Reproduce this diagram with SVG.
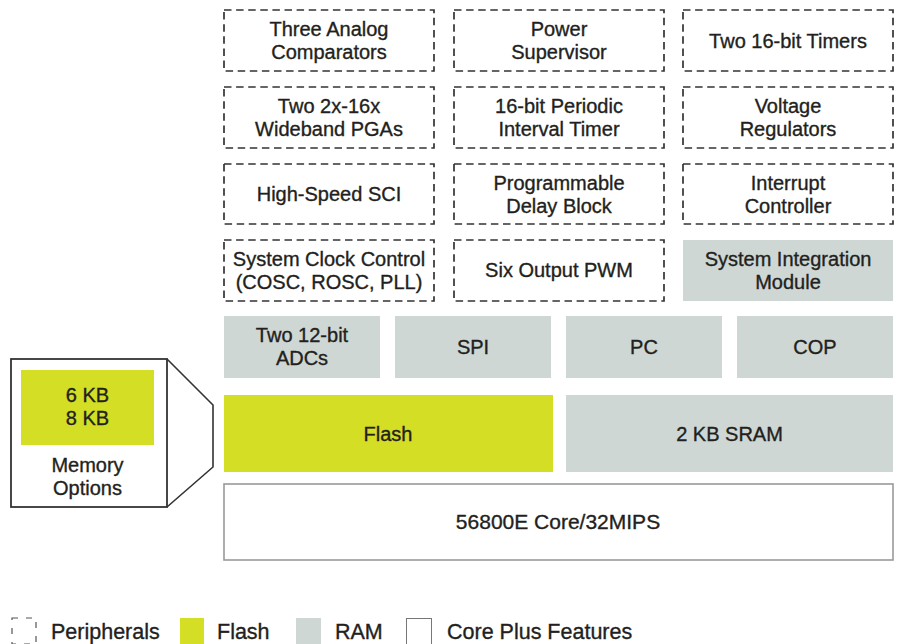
<svg xmlns="http://www.w3.org/2000/svg" width="898" height="644" viewBox="0 0 898 644">
<style>
text{font-family:"Liberation Sans",Arial,Helvetica,sans-serif;font-size:20px;fill:#231f20;stroke:#231f20;stroke-width:0.35;text-anchor:middle}
.per{fill:#fff;stroke:#333;stroke-width:1.7;stroke-dasharray:7.5 4.6}
.ram{fill:#ced7d3}
.fl{fill:#d3de24}
.core{fill:#fff;stroke:#9a9a9a;stroke-width:1.6}
.lg{text-anchor:start;font-size:21.5px}
</style>
<rect width="898" height="644" fill="#fff"/>
<g id="connectors">
<polyline points="167,359 213,405 213,467 167,507" fill="none" stroke="#333" stroke-width="1.6"/>
</g>
<g id="three-analog-comparators"><rect class="per" x="224" y="10" width="210" height="61"/><text x="329" y="36">Three Analog</text><text x="329" y="59">Comparators</text></g>
<g id="power-supervisor"><rect class="per" x="454" y="10" width="210" height="61"/><text x="559" y="36">Power</text><text x="559" y="59">Supervisor</text></g>
<g id="two-16bit-timers"><rect class="per" x="683" y="10" width="210" height="61"/><text x="788" y="48">Two 16-bit Timers</text></g>
<g id="two-pgas"><rect class="per" x="224" y="87" width="210" height="61"/><text x="329" y="113">Two 2x-16x</text><text x="329" y="136">Wideband PGAs</text></g>
<g id="periodic-timer"><rect class="per" x="454" y="87" width="210" height="61"/><text x="559" y="113">16-bit Periodic</text><text x="559" y="136">Interval Timer</text></g>
<g id="voltage-regulators"><rect class="per" x="683" y="87" width="210" height="61"/><text x="788" y="113">Voltage</text><text x="788" y="136">Regulators</text></g>
<g id="high-speed-sci"><rect class="per" x="224" y="164" width="210" height="60"/><text x="329" y="201">High-Speed SCI</text></g>
<g id="delay-block"><rect class="per" x="454" y="164" width="210" height="60"/><text x="559" y="190">Programmable</text><text x="559" y="213">Delay Block</text></g>
<g id="interrupt-controller"><rect class="per" x="683" y="164" width="210" height="60"/><text x="788" y="190">Interrupt</text><text x="788" y="213">Controller</text></g>
<g id="system-clock-control"><rect class="per" x="224" y="240" width="210" height="61"/><text x="329" y="266">System Clock Control</text><text x="329" y="289">(COSC, ROSC, PLL)</text></g>
<g id="six-output-pwm"><rect class="per" x="454" y="240" width="210" height="61"/><text x="559" y="277">Six Output PWM</text></g>
<g id="sim"><rect class="ram" x="683" y="240" width="210" height="61"/><text x="788" y="266">System Integration</text><text x="788" y="289">Module</text></g>
<g id="adcs"><rect class="ram" x="224" y="316" width="156" height="62"/><text x="302" y="342">Two 12-bit</text><text x="302" y="365">ADCs</text></g>
<g id="spi"><rect class="ram" x="395" y="316" width="156" height="62"/><text x="473" y="354">SPI</text></g>
<g id="pc"><rect class="ram" x="566" y="316" width="156" height="62"/><text x="644" y="354">PC</text></g>
<g id="cop"><rect class="ram" x="737" y="316" width="156" height="62"/><text x="815" y="354">COP</text></g>
<g id="flash"><rect class="fl" x="224" y="395" width="329" height="77"/><text x="388" y="441">Flash</text></g>
<g id="sram"><rect class="ram" x="566" y="395" width="327" height="77"/><text x="729.5" y="441">2 KB SRAM</text></g>
<g id="core"><rect class="core" x="224" y="484" width="669" height="76"/><text x="558" y="529" style="font-size:21px">56800E Core/32MIPS</text></g>
<g id="memory-options"><rect x="11" y="359" width="156" height="148" fill="#fff" stroke="#333" stroke-width="1.8"/><rect class="fl" x="21" y="370" width="133" height="75"/><text x="87.5" y="402">6 KB</text><text x="87.5" y="425">8 KB</text><text x="87.5" y="472">Memory</text><text x="87.5" y="495">Options</text></g>
<g id="legend">
<rect class="per" x="12" y="618" width="24" height="26" style="stroke:#555;stroke-width:1.2;stroke-dasharray:6 8"/>
<text class="lg" x="51" y="639">Peripherals</text>
<rect class="fl" x="180" y="618" width="24" height="27"/>
<text class="lg" x="217" y="639">Flash</text>
<rect class="ram" x="296" y="618" width="25" height="27"/>
<text class="lg" x="335" y="639">RAM</text>
<rect x="406.5" y="618.5" width="25" height="27" fill="#fff" stroke="#777" stroke-width="1"/>
<text class="lg" x="447" y="639">Core Plus Features</text>
</g>
</svg>
